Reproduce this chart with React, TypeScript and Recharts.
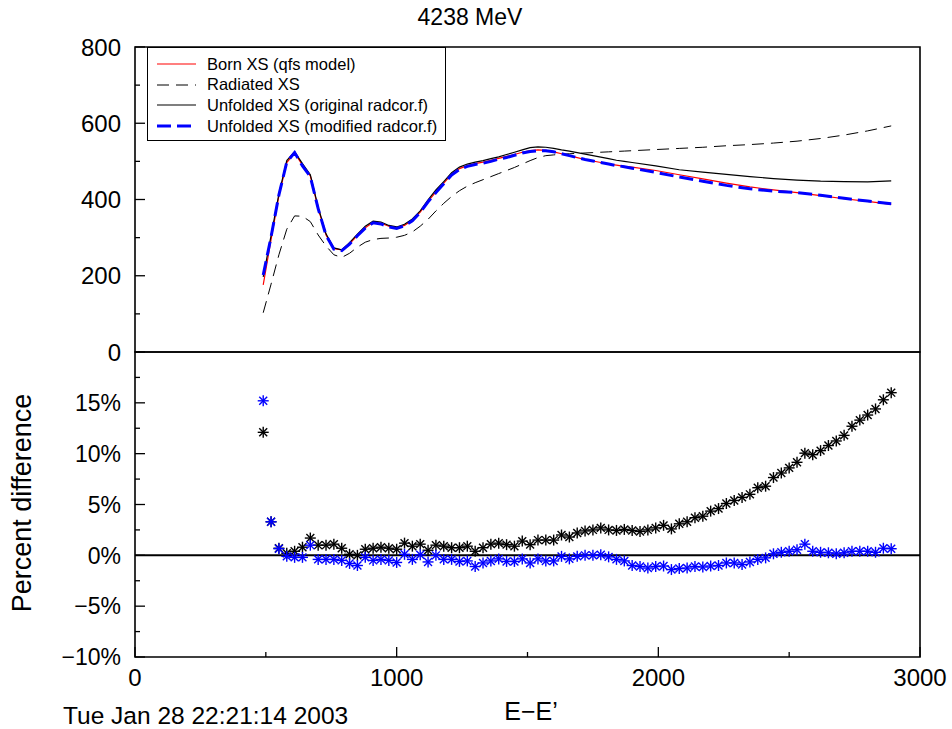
import React from 'react'
import {
  LineChart, Line, XAxis, YAxis, ReferenceArea, ReferenceLine,
  ScatterChart, Scatter
} from 'recharts'

const FONT = '"Liberation Sans", Arial, Helvetica, sans-serif'

// top panel: cross sections vs E-E'
const energyTop = [
  490, 520, 550, 580, 610, 640, 670, 700, 730, 760,
  790, 820, 850, 880, 910, 940, 970, 1000, 1030, 1060,
  1090, 1120, 1150, 1180, 1210, 1240, 1270, 1300, 1330, 1360,
  1390, 1420, 1450, 1480, 1510, 1540, 1570, 1600, 1630, 1660,
  1690, 1720, 1750, 1780, 1810, 1840, 1870,
  1900, 1990, 2080, 2170, 2260, 2350, 2440, 2530, 2620, 2710, 2800, 2890
]
const bornXS = [
  176, 295, 410, 497, 522, 490, 462, 377, 307, 271,
  268, 284, 306, 326, 340, 338, 330, 326, 332, 346,
  367, 395, 420, 443, 466, 481, 489, 494, 498, 503,
  508, 513, 518, 524, 528, 530, 529, 525, 520, 515,
  510, 505, 501, 497, 493, 490, 487,
  485, 476, 465, 454, 443, 433, 425, 418, 410, 402, 395, 387
]
const radiatedXS = [
  103, 178, 255, 322, 357, 356, 342, 307, 278, 255,
  248, 259, 275, 288, 295, 298, 299, 301, 306, 315,
  330, 348, 370, 390, 408, 423, 435, 444, 452, 460,
  468, 476, 484, 493, 502, 510, 515, 517, 519, 520,
  521, 522, 523, 524, 525, 526, 527,
  528, 531, 534, 537, 541, 544, 548, 553, 560, 569, 580, 593
]
const unfoldedOrig = [
  197, 305, 415, 502, 525, 494, 465, 380, 310, 273,
  268, 287, 309, 330, 343, 341, 332, 328, 335, 349,
  370, 399, 425, 447, 470, 485, 493, 498, 502, 507,
  512, 518, 524, 530, 536, 538, 537, 534, 530, 527,
  523, 519, 515, 511, 507, 503, 500,
  497, 488, 478, 472, 466, 460, 455, 451, 448, 447, 446, 449
]
const unfoldedMod = [
  202, 302, 412, 498, 523, 488, 460, 376, 306, 270,
  266, 283, 305, 325, 339, 336, 328, 324, 331, 344,
  366, 394, 418, 441, 464, 479, 487, 492, 495, 500,
  506, 510, 516, 522, 526, 528, 528, 525, 520, 515,
  510, 505, 501, 497, 493, 489, 486,
  482, 471, 459, 448, 437, 428, 422, 418, 411, 403, 396, 389
]

// bottom panel: percent difference to Born XS
const energyDiff = [
  490, 520, 550, 580, 610, 640, 670, 700, 730, 760,
  790, 820, 850, 880, 910, 940, 970, 1000, 1030, 1060,
  1090, 1120, 1150, 1180, 1210, 1240, 1270, 1300, 1330, 1360,
  1390, 1420, 1450, 1480, 1510, 1540, 1570, 1600, 1630, 1660,
  1690, 1720, 1750, 1780, 1810, 1840, 1870, 1900, 1930, 1960,
  1990, 2020, 2050, 2080, 2110, 2140, 2170, 2200, 2230, 2260,
  2290, 2320, 2350, 2380, 2410, 2440, 2470, 2500, 2530, 2560,
  2590, 2620, 2650, 2680, 2710, 2740, 2770, 2800, 2830, 2860, 2890
]
const diffOriginal = [
  12.1, 3.3, 0.7, 0.2, 0.4, 0.8, 1.7, 1.0, 1.0, 1.1,
  0.7, 0.1, 0.0, 0.6, 0.7, 0.8, 0.7, 0.6, 1.2, 0.9,
  1.1, 0.5, 1.0, 0.9, 0.75, 0.75, 0.9, 0.4, 0.75, 1.1,
  1.2, 1.05, 0.9, 1.4, 1.05, 1.5, 1.5, 1.5, 2.0, 1.8,
  2.2, 2.4, 2.5, 2.7, 2.5, 2.45, 2.55, 2.45, 2.35, 2.5,
  2.7, 2.95, 2.6, 3.1, 3.3, 3.7, 3.85, 4.35, 4.6, 5.1,
  5.4, 5.7, 6.0, 6.65, 6.8, 7.65, 8.1, 8.6, 9.15, 10.05,
  9.9, 10.3, 10.8, 11.25, 11.8, 12.7, 13.3, 13.8, 14.4, 15.3, 16.0
]
const diffModified = [
  15.2, 3.3, 0.65, -0.1, -0.2, -0.2, 1.0, -0.4, -0.4, -0.4,
  -0.5, -0.8, -1.0, -0.2, -0.5, -0.4, -0.5, -0.7, 0.1, -0.4,
  0.05, -0.65, 0.0, -0.4, -0.4, -0.6, -0.55, -1.1, -0.75, -0.55,
  -0.35, -0.6, -0.6, -0.35, -0.75, -0.35, -0.55, -0.55, -0.1, -0.35,
  -0.1, 0.0, 0.0, 0.05, -0.15, -0.4, -0.55, -1.0, -1.1, -1.25,
  -1.1, -1.05, -1.4, -1.3, -1.25, -1.1, -1.15, -1.05, -1.0, -0.75,
  -0.75, -0.9, -0.65, -0.4, -0.25, 0.15, 0.3, 0.4, 0.55, 1.1,
  0.4, 0.3, 0.25, 0.15, 0.25, 0.4, 0.4, 0.4, 0.3, 0.7, 0.65
]

const topTicks = [0, 100, 200, 300, 400, 500, 600, 700, 800]
const topLabels = [0, 200, 400, 600, 800]
const diffTicks = [-10, -7.5, -5, -2.5, 0, 2.5, 5, 7.5, 10, 12.5, 15, 17.5, 20]
const diffLabels = [-10, -5, 0, 5, 10, 15]
const xTicks = [0, 500, 1000, 1500, 2000, 2500, 3000]
const xLabels = [0, 1000, 2000, 3000]

const legendItems = [
  { name: 'Born XS (qfs model)', color: '#ff0000', dash: undefined, width: 1.2 },
  { name: 'Radiated XS', color: '#000000', dash: '12 7', width: 1 },
  { name: 'Unfolded XS (original radcor.f)', color: '#000000', dash: undefined, width: 1.2 },
  { name: 'Unfolded XS (modified radcor.f)', color: '#0000ff', dash: '14 6', width: 3 },
]

const TICK_FONT = 24

const pts = (xs: number[], ys: number[]) => xs.map((x, i) => ({ x, y: ys[i] }))

const fmtMinus = (v: number) => (v < 0 ? '\u2212' + Math.abs(v) : String(v))

const LeftTick = ({ x, y, payload, labels, fmt, size }: any) => {
  const major = labels.includes(payload.value)
  return (
    <g>
      <line x1={x} x2={x + (major ? 10 : 5)} y1={y} y2={y} stroke="#000" strokeWidth={1.3} />
      {major && (
        <text x={x - 14} y={y} dy="0.36em" textAnchor="end" fontSize={size || TICK_FONT} fontFamily={FONT} fill="#000">
          {fmt(payload.value)}
        </text>
      )}
    </g>
  )
}

const RightTick = ({ x, y, payload, labels }: any) => {
  const major = labels.includes(payload.value)
  return <line x1={x} x2={x - (major ? 10 : 5)} y1={y} y2={y} stroke="#000" strokeWidth={1.3} />
}

const BottomTick = ({ x, y, payload }: any) => {
  const major = xLabels.includes(payload.value)
  return (
    <g>
      <line x1={x} x2={x} y1={y} y2={y - (major ? 10 : 5)} stroke="#000" strokeWidth={1.3} />
      {major && (
        <text x={x} y={y + 29} textAnchor="middle" fontSize={TICK_FONT} fontFamily={FONT} fill="#000">
          {payload.value}
        </text>
      )}
    </g>
  )
}

const Star = ({ cx, cy, color }: any) => {
  const r = 5.5
  const d = r * 0.72
  return (
    <g stroke={color} strokeWidth={1.4}>
      <line x1={cx - r} x2={cx + r} y1={cy} y2={cy} />
      <line x1={cx} x2={cx} y1={cy - r} y2={cy + r} />
      <line x1={cx - d} x2={cx + d} y1={cy - d} y2={cy + d} />
      <line x1={cx - d} x2={cx + d} y1={cy + d} y2={cy - d} />
    </g>
  )
}

export default function App() {
  return (
    <div style={{ position: 'absolute', left: 0, top: 0, width: 952, height: 729, background: '#fff', fontFamily: FONT }}>
      {/* top panel */}
      <div style={{ position: 'absolute', left: 0, top: 0 }}>
        <LineChart width={952} height={380} margin={{ top: 47, right: 32, bottom: 28, left: 55 }}>
          <XAxis type="number" dataKey="x" domain={[0, 3000]} hide allowDataOverflow />
          <YAxis
            type="number" domain={[0, 800]} ticks={topTicks} interval={0} width={80}
            axisLine={false} tickLine={false} tickSize={0} tickMargin={0} allowDataOverflow
            tick={(p: any) => <LeftTick {...p} labels={topLabels} fmt={String} />}
          />
          <YAxis
            yAxisId="r" orientation="right" type="number" domain={[0, 800]} ticks={topTicks} interval={0} width={0}
            axisLine={false} tickLine={false} tickSize={0} tickMargin={0}
            tick={(p: any) => <RightTick {...p} labels={topLabels} />}
          />
          <ReferenceArea x1={0} x2={3000} y1={0} y2={800} fill="none" stroke="#000" strokeWidth={1.6} />
          <Line data={pts(energyTop, bornXS)} dataKey="y" stroke="#ff0000" strokeWidth={1.2} dot={false} isAnimationActive={false} />
          <Line data={pts(energyTop, radiatedXS)} dataKey="y" stroke="#000" strokeWidth={1} strokeDasharray="12 7" dot={false} isAnimationActive={false} />
          <Line data={pts(energyTop, unfoldedOrig)} dataKey="y" stroke="#000" strokeWidth={1.2} dot={false} isAnimationActive={false} />
          <Line data={pts(energyTop, unfoldedMod)} dataKey="y" stroke="#0000ff" strokeWidth={3} strokeDasharray="14 6" dot={false} isAnimationActive={false} />
        </LineChart>
      </div>

      {/* bottom panel */}
      <div style={{ position: 'absolute', left: 0, top: 0 }}>
        <ScatterChart width={952} height={729} margin={{ top: 352, right: 32, bottom: 12, left: 55 }}>
          <XAxis
            type="number" dataKey="x" domain={[0, 3000]} ticks={xTicks} interval={0} height={60}
            axisLine={false} tickLine={false} tickSize={0} tickMargin={0} allowDataOverflow
            tick={(p: any) => <BottomTick {...p} />}
          />
          <YAxis
            type="number" dataKey="y" domain={[-10, 20]} ticks={diffTicks} interval={0} width={80}
            axisLine={false} tickLine={false} tickSize={0} tickMargin={0} allowDataOverflow
            tick={(p: any) => <LeftTick {...p} labels={diffLabels} size={23} fmt={(v: number) => fmtMinus(v) + '%'} />}
          />
          <YAxis
            yAxisId="r" orientation="right" type="number" domain={[-10, 20]} ticks={diffTicks} interval={0} width={0}
            axisLine={false} tickLine={false} tickSize={0} tickMargin={0}
            tick={(p: any) => <RightTick {...p} labels={diffLabels} />}
          />
          <ReferenceArea x1={0} x2={3000} y1={-10} y2={20} fill="none" stroke="#000" strokeWidth={1.6} />
          <ReferenceLine y={0} stroke="#000" strokeWidth={2} />
          <Scatter data={pts(energyDiff, diffOriginal)} isAnimationActive={false}
            shape={(p: any) => <Star cx={p.cx} cy={p.cy} color="#000" />} />
          <Scatter data={pts(energyDiff, diffModified)} isAnimationActive={false}
            shape={(p: any) => <Star cx={p.cx} cy={p.cy} color="#0000ff" />} />
        </ScatterChart>
      </div>

      {/* legend */}
      <div style={{
        position: 'absolute', left: 147, top: 47, width: 299, height: 94,
        border: '1px solid #000', background: '#fff', boxSizing: 'border-box'
      }}>
        {legendItems.map((it, i) => (
          <div key={it.name} style={{ position: 'absolute', left: 8, top: 6 + i * 20.7, height: 20, display: 'flex', alignItems: 'center' }}>
            <svg width={42} height={20}>
              <line x1={1} x2={40} y1={10} y2={10} stroke={it.color} strokeWidth={it.width} strokeDasharray={it.dash} />
            </svg>
            <span style={{ marginLeft: 9, fontSize: 16.5, whiteSpace: 'nowrap', color: '#000' }}>{it.name}</span>
          </div>
        ))}
      </div>

      {/* texts */}
      <svg width={952} height={729} style={{ position: 'absolute', left: 0, top: 0, pointerEvents: 'none' }}>
        <text x={470} y={25} textAnchor="middle" fontSize={23} fontFamily={FONT}>4238 MeV</text>
        <text x={531} y={720} textAnchor="middle" fontSize={25} fontFamily={FONT}>E{'\u2212'}E{'\u2019'}</text>
        <text x={63} y={724} fontSize={24.5} fontFamily={FONT}>Tue Jan 28 22:21:14 2003</text>
        <text transform="translate(31 503) rotate(-90)" textAnchor="middle" fontSize={27} fontFamily={FONT}>Percent difference</text>
      </svg>
    </div>
  )
}
